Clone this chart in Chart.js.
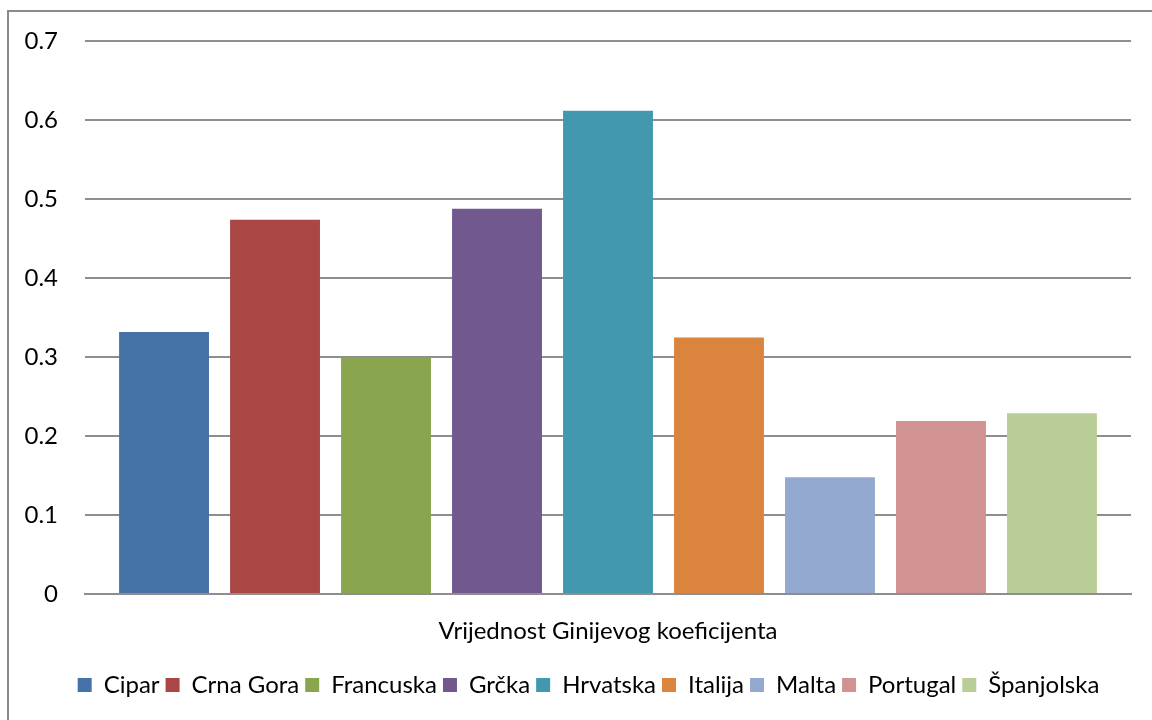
<!DOCTYPE html>
<html>
<head>
<meta charset="utf-8">
<script src="https://cdn.jsdelivr.net/npm/chart.js@4/dist/chart.umd.min.js"></script>
<style>
  html, body { margin: 0; padding: 0; background: #fff; overflow: hidden; }
  #wrap { position: relative; width: 1152px; height: 720px; }
  #frame { position: absolute; left: 7px; top: 10px; width: 1300px; height: 900px;
           border-left: 2px solid #8a8a8a; border-top: 2px solid #8a8a8a; pointer-events: none; }
</style>
</head>
<body>
<div id="wrap">
  <canvas id="myChart" width="1152" height="720"></canvas>
  <div id="frame"></div>
</div>
<script>
// one category, each country is its own series (like the Excel original)
var categories = ["Vrijednost Ginijevog koeficijenta"];
var countries = ["Cipar", "Crna Gora", "Francuska", "Grčka", "Hrvatska", "Italija", "Malta", "Portugal", "Španjolska"];
var giniValues = [0.332, 0.474, 0.300, 0.488, 0.612, 0.325, 0.148, 0.219, 0.229];
var barColors = ["#4572A7", "#AA4643", "#89A54E", "#71588F", "#4198AF", "#DB843D", "#93A9CF", "#D19392", "#B9CD96"];
var yTicks = [0, 0.1, 0.2, 0.3, 0.4, 0.5, 0.6, 0.7];

var datasets = [];
for (var i = 0; i < countries.length; i++) {
  datasets.push({
    label: countries[i],
    data: [giniValues[i]],
    backgroundColor: barColors[i],
    borderWidth: 0,
    categoryPercentage: 0.955,
    barPercentage: 0.81
  });
}

Chart.defaults.font.family = "Lato, 'Open Sans', sans-serif";
Chart.defaults.font.size = 24;
Chart.defaults.color = "#000";

// legend in the original sits centred under the plot, not under the canvas
var shiftLegend = {
  id: "shiftLegend",
  afterLayout: function(chart) {
    var dx = 23;
    chart.legend.left += dx;
    chart.legend.right += dx;
  }
};

var ctx = document.getElementById("myChart").getContext("2d");
var myNewChart = new Chart(ctx, {
  type: "bar",
  data: { labels: categories, datasets: datasets },
  plugins: [shiftLegend],
  options: {
    responsive: false,
    animation: false,
    layout: { padding: { left: 0, right: 21, top: 29, bottom: 13 } },
    plugins: {
      tooltip: { enabled: false },
      legend: {
        position: "bottom",
        labels: { boxWidth: 14, boxHeight: 14, padding: 6, font: { size: 24 } }
      }
    },
    scales: {
      x: {
        afterFit: function(axis) { axis.height = 73; },
        grid: { display: false, drawTicks: false },
        border: { display: true, color: "#8e8e8e", width: 2 },
        ticks: { padding: 23, font: { size: 24 } }
      },
      y: {
        min: 0,
        max: 0.7,
        afterFit: function(axis) { axis.width = 85; },
        afterBuildTicks: function(axis) {
          axis.ticks = yTicks.map(function(v) { return { value: v }; });
        },
        grid: { color: "#8e8e8e", lineWidth: 2, drawTicks: false },
        border: { display: false },
        ticks: {
          padding: 27,
          font: { size: 24 },
          callback: function(v) { return v === 0 ? "0" : v.toFixed(1); }
        }
      }
    }
  }
});
</script>
</body>
</html>
